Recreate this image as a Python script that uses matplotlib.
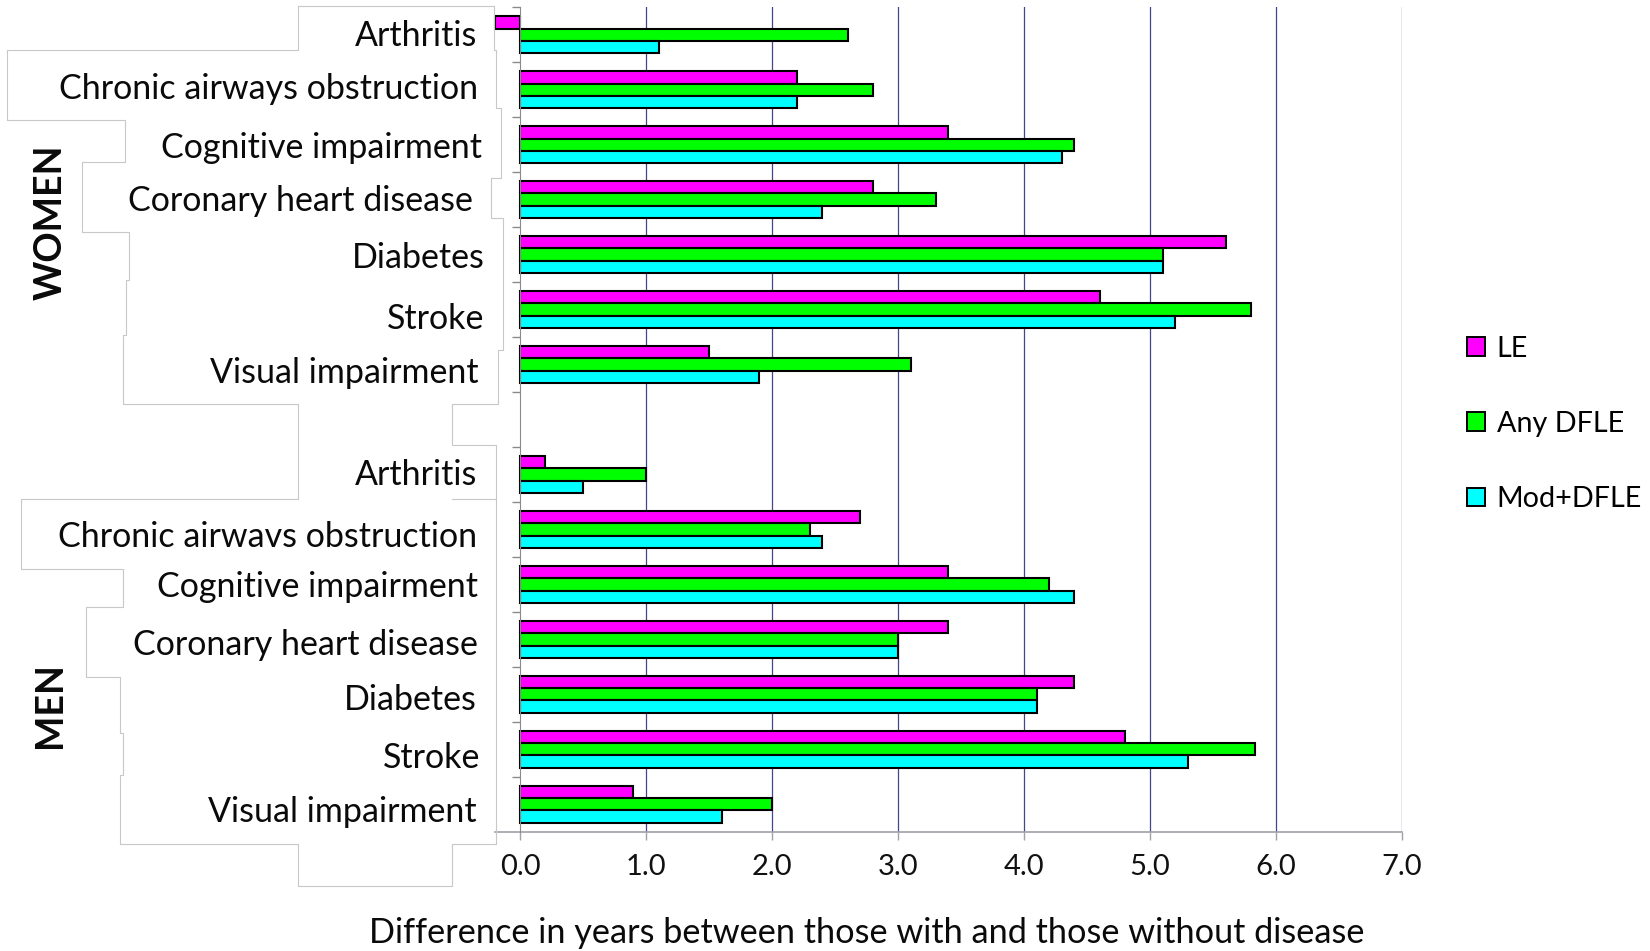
import matplotlib
matplotlib.use("Agg")
import matplotlib.pyplot as plt
import matplotlib.transforms as mtransforms
from matplotlib.lines import Line2D
from matplotlib.patches import Patch
import numpy as np

plt.rcParams["font.family"] = ["Lato", "DejaVu Sans"]

# ---- data -------------------------------------------------------------
women_labels = ["Arthritis", "Chronic airways obstruction", "Cognitive impairment",
                "Coronary heart disease", "Diabetes", "Stroke", "Visual impairment"]
men_labels = ["Arthritis", "Chronic airwavs obstruction", "Cognitive impairment",
              "Coronary heart disease", "Diabetes", "Stroke", "Visual impairment"]

series_names = ["LE", "Any DFLE", "Mod+DFLE"]

women_le = [-0.2, 2.2, 3.4, 2.8, 5.6, 4.6, 1.5]
women_any_dfle = [2.6, 2.8, 4.4, 3.3, 5.1, 5.8, 3.1]
women_mod_dfle = [1.1, 2.2, 4.3, 2.4, 5.1, 5.2, 1.9]

men_le = [0.2, 2.7, 3.4, 3.4, 4.4, 4.8, 0.9]
men_any_dfle = [1.0, 2.3, 4.2, 3.0, 4.1, 5.83, 2.0]
men_mod_dfle = [0.5, 2.4, 4.4, 3.0, 4.1, 5.3, 1.6]

x_ticks = [0, 1, 2, 3, 4, 5, 6, 7]
x_ticklabels = ["0.0", "1.0", "2.0", "3.0", "4.0", "5.0", "6.0", "7.0"]

# ---- layout -----------------------------------------------------------
W, H = 1650, 951
fig = plt.figure(figsize=(W / 100, H / 100), dpi=100)

def fx(px):
    return px / W

def fy(py):
    return 1 - py / H

ax = fig.add_axes([fx(494.8), fy(831.7), fx(1402) - fx(494.8), fy(7.3) - fy(831.7)])

colors = ["#FF00FF", "#00FF00", "#00FFFF"]
bar_h = 0.225

n = len(women_labels)
women_rows = np.arange(n)
men_rows = np.arange(n) + n + 1
total_rows = 2 * n + 1

groups = [
    (women_rows, [women_le, women_any_dfle, women_mod_dfle]),
    (men_rows, [men_le, men_any_dfle, men_mod_dfle]),
]
for rows, series in groups:
    for j, vals in enumerate(series):
        ax.barh(rows + (j - 1) * bar_h, vals, height=bar_h, color=colors[j],
                edgecolor="black", linewidth=1.5, zorder=3, clip_on=False)

ax.set_xlim(-0.2, 7.0)
ax.set_ylim(total_rows - 0.5, -0.5)

# vertical grid lines
for t in x_ticks[1:]:
    ax.axvline(t, color="#45458a", linewidth=0.9, zorder=1)

for side in ["top", "right"]:
    ax.spines[side].set_visible(False)
ax.spines["left"].set_position(("data", 0))
ax.spines["left"].set_color("#8a8a8a")
ax.spines["left"].set_zorder(4)
ax.spines["bottom"].set_color("#a0a0a8")
ax.spines["bottom"].set_linewidth(1.2)

ax.set_yticks(np.arange(total_rows) - 0.5)
ax.set_yticklabels([])
ax.tick_params(axis="y", length=6, width=1, color="#8a8a8a", direction="out")

ax.set_xticks(x_ticks)
ax.set_xticklabels(x_ticklabels, fontsize=21, color="#111111")
ax.tick_params(axis="x", length=6, width=1, color="#a0a0a8", pad=10)

# category labels, one text object per row
women_nudge = [(-1, -1), (0, -3), (4, 1), (-5, -1), (7, 1), (6, 7), (1, 6)]
men_nudge = [(-1, -1), (-1, 6), (0, 1), (0, 4), (-1, 4), (2, 7), (-1, 6)]
label_x = fx(478)
for rows, labels, nudges in [(women_rows, women_labels, women_nudge),
                             (men_rows, men_labels, men_nudge)]:
    for r, lab, (dx, dy) in zip(rows, labels, nudges):
        base = mtransforms.blended_transform_factory(fig.transFigure, ax.transData)
        tr = mtransforms.offset_copy(base, fig=fig, x=dx, y=-(12 + dy), units="dots")
        fig.text(label_x, r, lab, transform=tr, ha="right", va="baseline",
                 fontsize=24.5, color="#0a0a0a")

# group labels
fig.text(fx(51), fy(222), "WOMEN", rotation=90, ha="center", va="center",
         fontsize=27, fontweight="bold", color="#0a0a0a")
fig.text(fx(50), fy(705), "MEN", rotation=90, ha="center", va="center",
         fontsize=27, fontweight="bold", color="#0a0a0a")

# axis title
fig.text(fx(866.5), fy(943), "Difference in years between those with and those without disease",
         ha="center", va="baseline", fontsize=24.7, color="#0a0a0a")

# text-box outline around the category labels
outline = [(298, 6), (494, 6), (494, 50), (496, 50), (496, 108), (501, 108), (501, 178),
           (491, 178), (491, 218), (503, 218), (503, 350), (498, 350), (498, 404),
           (452, 404), (452, 445), (496, 445), (496, 844), (452, 844), (452, 886),
           (298, 886), (298, 844), (120, 844), (120, 775), (123, 775), (123, 733),
           (120, 733), (120, 677), (86, 677), (86, 607), (123, 607), (123, 569),
           (21, 569), (21, 499), (298, 499), (298, 404), (123, 404), (123, 335),
           (126, 335), (126, 280), (129, 280), (129, 232), (82, 232), (82, 162),
           (125, 162), (125, 120), (7, 120), (7, 50), (298, 50), (298, 6)]
ox = [fx(p[0]) for p in outline]
oy = [fy(p[1]) for p in outline]
fig.add_artist(Line2D(ox, oy, transform=fig.transFigure, color="#c8c8c8", linewidth=0.8))
fig.add_artist(Line2D([fx(452), fx(496)], [fy(499), fy(499)], transform=fig.transFigure,
                      color="#c8c8c8", linewidth=0.8))

# legend
handles = [Patch(facecolor=c, edgecolor="black", linewidth=1.4) for c in colors]
fig.legend(handles, series_names, loc="center left",
           bbox_to_anchor=(fx(1467), fy(424)), frameon=False, fontsize=20.7,
           handlelength=0.63, handleheight=0.63, handletextpad=0.4,
           labelspacing=1.71, borderpad=0, borderaxespad=0)

fig.savefig("out.png", dpi=100, facecolor="white")
